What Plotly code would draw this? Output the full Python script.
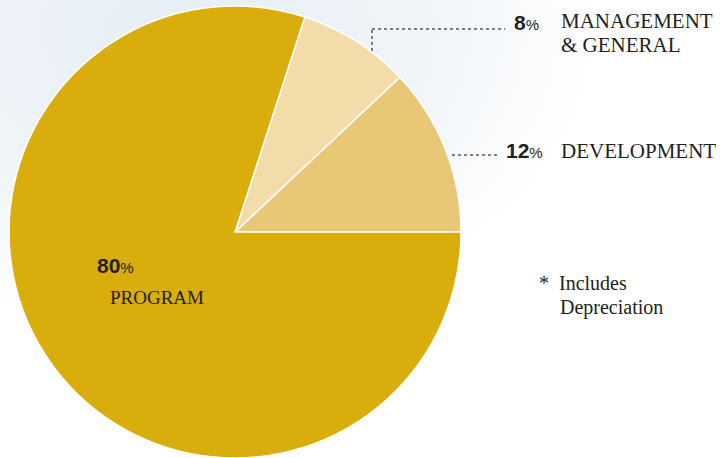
import plotly.graph_objects as go
import urllib.parse

W, H = 725, 458

# ---- data ----
categories = ["DEVELOPMENT", "MANAGEMENT & GENERAL", "PROGRAM"]
values = [12, 8, 80]
colors = ["#E8C776", "#F2DDAA", "#D9AD0B"]
pct_labels = ["12", "8", "80"]
note_lines = ["*&nbsp; Includes", "Depreciation"]


def px(x):
    return x / W


def py(y):
    return 1 - y / H


fig = go.Figure()

# first slice (DEVELOPMENT) must start at 3 o'clock and run counterclockwise
rot = 90 - 360 * values[0] / sum(values)

fig.add_trace(go.Pie(
    labels=categories,
    values=values,
    marker=dict(colors=colors, line=dict(color="white", width=1.5)),
    sort=False,
    direction="counterclockwise",
    rotation=rot,
    textinfo="none",
    hoverinfo="label+percent",
    showlegend=False,
    domain=dict(x=[px(9), px(461)], y=[py(458), py(6)]),
))

# sky-like background gradient as an inline svg
svg = (
    f"<svg xmlns='http://www.w3.org/2000/svg' width='{W}' height='{H}'>"
    "<defs><radialGradient id='g' cx='170' cy='30' r='430' gradientUnits='userSpaceOnUse' "
    "gradientTransform='translate(170 30) scale(1 0.7) translate(-170 -30)'>"
    "<stop offset='0' stop-color='#e6eef6'/>"
    "<stop offset='0.6' stop-color='#f0f5f9'/>"
    "<stop offset='1' stop-color='#ffffff'/>"
    "</radialGradient></defs>"
    f"<rect width='{W}' height='{H}' fill='#ffffff'/>"
    f"<rect width='{W}' height='{H}' fill='url(#g)'/>"
    "</svg>"
)
src = "data:image/svg+xml;charset=utf-8," + urllib.parse.quote(svg)
fig.add_layout_image(dict(
    source=src, xref="paper", yref="paper", x=0, y=1,
    sizex=1, sizey=1, xanchor="left", yanchor="top",
    sizing="stretch", layer="below",
))

dot = dict(color="#555555", width=1.5, dash="dot")
# leaders
fig.add_shape(type="line", xref="paper", yref="paper",
              x0=px(372), y0=py(51), x1=px(372), y1=py(29), line=dot)
fig.add_shape(type="line", xref="paper", yref="paper",
              x0=px(372), y0=py(29), x1=px(505), y1=py(29), line=dot)
fig.add_shape(type="line", xref="paper", yref="paper",
              x0=px(452), y0=py(155), x1=px(497), y1=py(155), line=dot)

sans = "Liberation Sans, Arial, sans-serif"
serif = "Liberation Serif, Times New Roman, serif"
ink = "#231f20"


def pct(text, x, y):
    fig.add_annotation(
        text=f"<b>{text}</b><span style='font-size:15px'>%</span>",
        xref="paper", yref="paper", x=px(x), y=py(y),
        xanchor="left", yanchor="middle", showarrow=False,
        font=dict(family=sans, size=21, color=ink),
    )


def lab(text, x, y, size=20):
    fig.add_annotation(
        text=text, xref="paper", yref="paper", x=px(x), y=py(y),
        xanchor="left", yanchor="middle", showarrow=False, borderpad=0,
        font=dict(family=serif, size=size, color=ink),
    )


pct(pct_labels[1], 512, 22)
lab("MANAGEMENT", 560, 21, size=21)
lab("&amp; GENERAL", 560, 45, size=21)

pct(pct_labels[0], 504, 150)
lab("DEVELOPMENT", 560, 151, size=21)

pct(pct_labels[2], 95, 265)
lab("PROGRAM", 109, 297, size=19)

lab(note_lines[0], 538, 283, size=20)
lab(note_lines[1], 559, 307, size=20)

fig.update_layout(
    width=W, height=H, autosize=False,
    margin=dict(l=0, r=0, t=0, b=0),
    paper_bgcolor="white", plot_bgcolor="white",
)

fig.write_html("out.html",
               config={"displayModeBar": False},
               post_script="document.body.style.margin='0';document.body.style.overflow='hidden';")
